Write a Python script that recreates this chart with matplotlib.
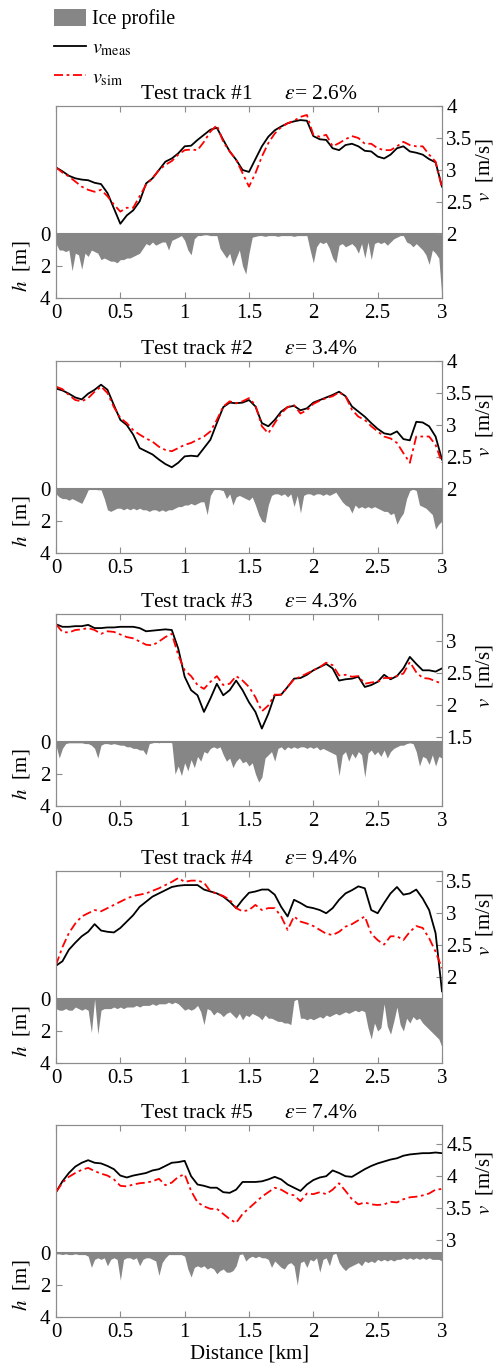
import matplotlib

matplotlib.use("Agg")
import matplotlib.pyplot as plt  # noqa: E402
import numpy as np  # noqa: E402
from matplotlib.lines import Line2D  # noqa: E402
from matplotlib.patches import Patch  # noqa: E402

plt.rcParams["font.family"] = ["Liberation Serif", "DejaVu Serif"]
plt.rcParams["mathtext.fontset"] = "stix"
plt.rcParams["font.size"] = 14

# distance grids [km]
X_V = np.linspace(0, 3, 61)
X_H = np.linspace(0, 3, 121)

TITLES = ["Test track #1", "Test track #2", "Test track #3", "Test track #4", "Test track #5"]
ERRORS = ["2.6%", "3.4%", "4.3%", "9.4%", "7.4%"]

# velocity axis limits and ticks per track [m/s]
V_LIMS = [(1.0, 4.0), (1.0, 4.0), (0.42, 3.42), (0.65, 3.65), (1.8, 4.8)]
V_TICKS = [
    [2, 2.5, 3, 3.5, 4],
    [2, 2.5, 3, 3.5, 4],
    [1.5, 2, 2.5, 3],
    [2, 2.5, 3, 3.5],
    [3, 3.5, 4, 4.5],
]

v_meas_1 = [
    3.04, 2.98, 2.91, 2.87, 2.85, 2.84, 2.80, 2.78, 2.64, 2.40,
    2.16, 2.29, 2.37, 2.51, 2.79, 2.87, 3.00, 3.13, 3.18, 3.26,
    3.37, 3.38, 3.47, 3.55, 3.63, 3.66, 3.47, 3.29, 3.16, 3.00,
    2.97, 3.17, 3.37, 3.52, 3.62, 3.68, 3.73, 3.76, 3.78, 3.77,
    3.53, 3.48, 3.47, 3.34, 3.31, 3.39, 3.41, 3.37, 3.30, 3.29,
    3.21, 3.18, 3.24, 3.34, 3.37, 3.29, 3.27, 3.24, 3.17, 3.12,
    2.74,
]
v_sim_1 = [
    3.04, 2.96, 2.90, 2.82, 2.74, 2.69, 2.66, 2.69, 2.59, 2.46,
    2.35, 2.41, 2.41, 2.59, 2.77, 2.87, 3.00, 3.08, 3.14, 3.24,
    3.31, 3.32, 3.31, 3.44, 3.60, 3.70, 3.44, 3.29, 3.16, 2.95,
    2.74, 2.95, 3.21, 3.42, 3.57, 3.67, 3.73, 3.77, 3.83, 3.86,
    3.55, 3.52, 3.55, 3.37, 3.42, 3.48, 3.53, 3.50, 3.41, 3.41,
    3.34, 3.31, 3.31, 3.37, 3.44, 3.39, 3.37, 3.37, 3.24, 3.13,
    2.72,
]
h_1 = [
    0.6, 1.0, 1.0, 1.1, 1.0, 2.3, 1.2, 1.3, 2.2, 1.2,
    1.4, 1.0, 1.1, 1.2, 1.6, 1.5, 1.6, 1.7, 1.7, 1.8,
    1.6, 1.6, 1.5, 1.5, 1.4, 1.3, 1.2, 0.9, 0.6, 0.7,
    0.5, 0.7, 0.6, 0.5, 0.5, 1.0, 0.4, 0.3, 0.2, 0.1,
    0.4, 1.0, 1.3, 0.3, 0.1, 0.1, 0.05, 0.05, 0.1, 0.1,
    0.1, 0.9, 1.2, 1.5, 1.2, 2.0, 1.5, 1.0, 2.0, 2.5,
    1.2, 0.2, 0.15, 0.1, 0.1, 0.15, 0.1, 0.1, 0.1, 0.15,
    0.1, 0.1, 0.1, 0.1, 0.15, 0.1, 0.1, 0.1, 0.1, 1.0,
    1.8, 0.8, 0.5, 0.6, 0.5, 0.9, 1.5, 1.8, 0.7, 0.6,
    0.8, 0.7, 0.6, 0.8, 1.2, 0.6, 1.5, 0.5, 1.6, 0.6,
    0.5, 0.6, 0.5, 0.7, 0.5, 0.3, 0.2, 0.1, 0.1, 0.5,
    0.6, 0.8, 0.6, 0.8, 1.0, 1.3, 1.9, 1.0, 1.2, 1.5,
    4.0,
]

v_meas_2 = [
    3.57, 3.54, 3.49, 3.43, 3.40, 3.49, 3.55, 3.63, 3.55, 3.31,
    3.08, 3.00, 2.85, 2.64, 2.59, 2.54, 2.46, 2.39, 2.34, 2.41,
    2.51, 2.52, 2.51, 2.64, 2.77, 3.03, 3.28, 3.35, 3.34, 3.35,
    3.39, 3.29, 3.03, 2.98, 3.08, 3.21, 3.28, 3.30, 3.23, 3.26,
    3.35, 3.39, 3.43, 3.47, 3.52, 3.45, 3.29, 3.21, 3.13, 3.03,
    2.94, 2.87, 2.85, 2.90, 2.78, 2.76, 3.05, 3.04, 2.98, 2.82,
    2.46,
]
v_sim_2 = [
    3.60, 3.56, 3.47, 3.39, 3.37, 3.42, 3.52, 3.60, 3.50, 3.28,
    3.11, 3.03, 2.92, 2.85, 2.79, 2.74, 2.66, 2.61, 2.59, 2.64,
    2.69, 2.72, 2.77, 2.82, 2.90, 3.08, 3.29, 3.37, 3.34, 3.37,
    3.42, 3.31, 2.98, 2.87, 3.03, 3.18, 3.28, 3.31, 3.18, 3.23,
    3.33, 3.38, 3.42, 3.45, 3.51, 3.45, 3.24, 3.13, 3.08, 2.98,
    2.90, 2.82, 2.79, 2.72, 2.56, 2.41, 2.82, 2.82, 2.82, 2.69,
    2.41,
]
h_2 = [
    0.3, 0.5, 0.6, 0.6, 0.7, 0.6, 0.7, 0.8, 0.9, 0.5,
    0.05, 0.0, 0.0, 0.05, 0.05, 0.6, 1.3, 1.4, 1.3, 1.2,
    1.2, 1.3, 1.2, 1.3, 1.2, 1.3, 1.2, 1.3, 1.3, 1.4,
    1.3, 1.3, 1.4, 1.3, 1.4, 1.3, 1.3, 1.2, 1.1, 1.1,
    1.0, 1.0, 0.9, 1.0, 0.9, 0.8, 0.8, 1.6, 0.4, 0.05,
    0.0, 0.05, 0.1, 0.6, 0.3, 1.0, 0.5, 0.4, 0.5, 0.6,
    0.7, 0.5, 1.0, 1.6, 2.0, 2.1, 1.0, 0.4, 0.3, 0.3,
    0.4, 0.3, 0.5, 0.3, 1.1, 0.4, 1.5, 0.4, 0.3, 0.3,
    0.4, 0.3, 0.3, 0.4, 0.3, 0.4, 0.3, 0.2, 0.5, 0.8,
    1.0, 1.1, 1.5, 1.0, 1.2, 1.1, 1.2, 1.1, 1.2, 1.1,
    1.2, 1.3, 1.4, 1.4, 1.6, 1.5, 2.2, 1.8, 1.5, 0.6,
    0.1, 0.0, 0.1, 1.0, 1.1, 1.2, 1.4, 1.6, 2.5, 2.2,
    2.0,
]

v_meas_3 = [
    3.26, 3.22, 3.22, 3.23, 3.23, 3.25, 3.20, 3.20, 3.21, 3.21,
    3.22, 3.22, 3.22, 3.20, 3.15, 3.16, 3.17, 3.18, 3.17, 2.88,
    2.44, 2.23, 2.15, 1.89, 2.10, 2.33, 2.15, 2.23, 2.38, 2.23,
    2.04, 1.89, 1.63, 1.86, 2.15, 2.16, 2.28, 2.41, 2.42, 2.47,
    2.54, 2.59, 2.64, 2.57, 2.38, 2.40, 2.41, 2.44, 2.28, 2.31,
    2.36, 2.47, 2.40, 2.45, 2.57, 2.75, 2.64, 2.54, 2.54, 2.52,
    2.57,
]
v_sim_3 = [
    3.26, 3.14, 3.13, 3.17, 3.18, 3.20, 3.17, 3.11, 3.15, 3.14,
    3.10, 3.06, 3.04, 2.99, 2.94, 2.93, 2.99, 3.06, 3.11, 2.78,
    2.54, 2.45, 2.31, 2.25, 2.36, 2.45, 2.31, 2.33, 2.45, 2.38,
    2.28, 2.12, 1.90, 1.99, 2.16, 2.16, 2.28, 2.40, 2.44, 2.49,
    2.54, 2.59, 2.66, 2.62, 2.46, 2.47, 2.44, 2.45, 2.33, 2.35,
    2.36, 2.42, 2.42, 2.45, 2.49, 2.67, 2.51, 2.42, 2.41, 2.37,
    2.33,
]
h_3 = [
    0.2, 1.0, 0.4, 0.1, 0.05, 0.05, 0.05, 0.05, 0.05, 0.1,
    0.1, 0.2, 0.4, 1.0, 0.2, 0.1, 0.1, 0.15, 0.1, 0.15,
    0.2, 0.2, 0.3, 0.3, 0.4, 0.4, 0.5, 0.5, 0.8, 0.1,
    0.05, 0.0, 0.05, 0.0, 0.0, 0.0, 0.05, 2.0, 1.5, 2.1,
    1.3, 1.8, 1.1, 1.6, 0.9, 1.2, 0.6, 0.7, 0.4, 0.3,
    0.4, 0.3, 0.8, 1.2, 1.0, 1.6, 1.2, 1.0, 1.3, 1.2,
    1.5, 1.3, 2.0, 2.5, 2.2, 1.0, 0.8, 0.6, 1.2, 0.4,
    0.3, 0.5, 0.3, 0.4, 0.3, 0.4, 0.3, 0.3, 0.4, 0.3,
    0.4, 0.3, 0.5, 0.4, 0.5, 0.6, 0.7, 0.8, 2.1, 0.8,
    0.6, 1.2, 0.7, 1.0, 0.6, 0.8, 2.2, 0.7, 0.5, 0.8,
    0.6, 0.9, 0.5, 1.0, 0.6, 0.4, 0.3, 0.2, 0.2, 0.1,
    0.05, 0.1, 0.6, 1.5, 0.9, 1.0, 1.4, 0.8, 1.5, 0.9,
    1.0,
]

v_meas_4 = [
    2.17, 2.24, 2.42, 2.53, 2.63, 2.70, 2.82, 2.72, 2.70, 2.69,
    2.76, 2.86, 2.96, 3.09, 3.17, 3.25, 3.30, 3.35, 3.40, 3.42,
    3.43, 3.43, 3.43, 3.36, 3.33, 3.30, 3.25, 3.17, 3.07, 3.20,
    3.31, 3.33, 3.36, 3.36, 3.28, 3.09, 2.94, 3.20, 3.15, 3.09,
    3.07, 3.04, 2.99, 3.07, 3.20, 3.30, 3.35, 3.41, 3.38, 3.04,
    2.99, 3.15, 3.30, 3.40, 3.28, 3.30, 3.36, 3.22, 3.04, 2.68,
    1.77,
]
v_sim_4 = [
    2.18, 2.46, 2.68, 2.83, 2.94, 2.99, 3.04, 3.02, 3.07, 3.12,
    3.17, 3.22, 3.26, 3.28, 3.30, 3.34, 3.38, 3.43, 3.48, 3.54,
    3.48, 3.50, 3.50, 3.47, 3.33, 3.30, 3.26, 3.20, 3.07, 3.02,
    3.04, 3.12, 3.04, 3.07, 3.07, 2.94, 2.73, 2.94, 2.86, 2.83,
    2.79, 2.73, 2.67, 2.65, 2.70, 2.78, 2.82, 2.88, 2.94, 2.67,
    2.57, 2.50, 2.63, 2.63, 2.57, 2.70, 2.79, 2.76, 2.60, 2.39,
    2.13,
]
h_4 = [
    0.6, 0.7, 0.7, 0.6, 0.7, 0.7, 0.5, 0.6, 0.7, 0.6,
    0.7, 2.1, 0.0, 2.2, 0.7, 0.6, 0.6, 0.6, 0.5, 0.6,
    0.5, 0.6, 0.5, 0.5, 0.5, 0.4, 0.5, 0.4, 0.4, 0.4,
    0.3, 0.4, 0.3, 0.3, 0.3, 0.2, 0.3, 0.2, 0.3, 0.5,
    0.7, 0.6, 0.7, 0.6, 0.4, 0.8, 1.6, 0.6, 0.7, 1.0,
    0.8, 0.9, 1.1, 0.9, 0.8, 1.0, 1.2, 0.9, 1.3, 1.0,
    1.1, 0.9, 1.0, 1.1, 1.3, 1.0, 1.2, 1.2, 1.3, 1.4,
    1.4, 1.5, 1.5, 1.6, 0.1, 0.0, 1.2, 1.2, 1.3, 1.2,
    1.3, 1.2, 1.1, 1.2, 1.0, 1.1, 1.0, 0.9, 1.0, 0.9,
    0.8, 0.9, 0.8, 0.7, 0.8, 0.7, 0.8, 1.8, 2.5, 1.5,
    2.0, 1.8, 0.3, 1.7, 2.2, 1.4, 0.5, 1.6, 2.0, 1.2,
    1.5, 1.1, 1.3, 1.2, 1.5, 1.7, 1.9, 2.1, 2.3, 2.5,
    3.0,
]

v_meas_5 = [
    3.75, 3.92, 4.05, 4.15, 4.21, 4.25, 4.21, 4.20, 4.16, 4.11,
    4.01, 3.98, 4.01, 4.03, 4.05, 4.09, 4.11, 4.16, 4.21, 4.22,
    4.24, 4.00, 3.87, 3.85, 3.82, 3.82, 3.75, 3.74, 3.79, 3.91,
    3.91, 3.91, 3.92, 3.95, 3.99, 3.95, 3.87, 3.82, 3.77, 3.87,
    3.94, 3.98, 4.00, 4.09, 4.05, 4.00, 3.99, 4.05, 4.11, 4.16,
    4.20, 4.23, 4.26, 4.28, 4.32, 4.34, 4.35, 4.36, 4.36, 4.37,
    4.36,
]
v_sim_5 = [
    3.75, 3.90, 3.99, 4.05, 4.10, 4.13, 4.08, 4.04, 4.01, 3.95,
    3.85, 3.84, 3.87, 3.89, 3.90, 3.92, 3.96, 3.86, 3.90, 3.99,
    4.03, 3.77, 3.59, 3.53, 3.49, 3.49, 3.41, 3.33, 3.27, 3.41,
    3.50, 3.59, 3.68, 3.75, 3.82, 3.79, 3.73, 3.70, 3.61, 3.73,
    3.72, 3.75, 3.72, 3.79, 3.89, 3.77, 3.64, 3.56, 3.59, 3.56,
    3.55, 3.56, 3.60, 3.59, 3.64, 3.67, 3.68, 3.70, 3.73, 3.79,
    3.80,
]
h_5 = [
    0.05, 0.05, 0.1, 0.05, 0.1, 0.1, 0.05, 0.1, 0.1, 0.1,
    0.2, 0.9, 0.4, 0.3, 0.4, 0.3, 0.8, 0.4, 0.3, 0.4,
    1.7, 0.4, 0.3, 0.3, 0.4, 0.3, 0.8, 0.4, 0.3, 0.3,
    0.4, 0.5, 1.4, 0.6, 0.3, 0.1, 0.1, 0.1, 0.1, 0.1,
    0.2, 1.0, 1.5, 0.9, 0.8, 0.9, 0.8, 1.0, 0.9, 1.0,
    1.3, 1.1, 1.0, 1.2, 1.2, 1.1, 0.8, 0.1, 0.05, 0.5,
    0.3, 0.2, 0.3, 0.2, 0.3, 0.3, 0.4, 0.9, 0.5, 0.7,
    0.9, 1.0, 0.7, 0.6, 0.8, 2.0, 0.6, 0.5, 0.9, 0.4,
    0.5, 0.3, 1.2, 0.4, 0.3, 0.8, 0.1, 0.0, 0.6, 0.9,
    1.1, 0.9, 0.8, 0.7, 0.6, 0.8, 0.5, 0.6, 0.5, 0.6,
    0.4, 0.5, 0.4, 0.5, 0.4, 0.5, 0.4, 0.4, 0.3, 0.4,
    0.3, 0.4, 0.3, 0.4, 0.3, 0.4, 0.3, 0.4, 0.4, 0.4,
    0.5,
]

V_MEAS = [v_meas_1, v_meas_2, v_meas_3, v_meas_4, v_meas_5]
V_SIM = [v_sim_1, v_sim_2, v_sim_3, v_sim_4, v_sim_5]
H_ICE = [h_1, h_2, h_3, h_4, h_5]

ICE_COLOR = "#868686"
SPINE_COLOR = "#8c8c8c"
SIM_DASH = (0, (5, 2, 1.5, 2))
TICK_FS = 15

W, H = 496, 1370
fig = plt.figure(figsize=(W / 100, H / 100), dpi=100)

ax_left, ax_right = 56, 442
tops = [106, 361, 614, 871, 1125]
panel_h = 192

for i in range(5):
    top = tops[i]
    ax = fig.add_axes([ax_left / W, (H - top - panel_h) / H,
                       (ax_right - ax_left) / W, panel_h / H])
    ax.fill_between(X_H, 0, H_ICE[i], color=ICE_COLOR, lw=0)
    ax.axhline(0, color=ICE_COLOR, lw=1.5)
    ax.set_ylim(4, -8)
    ax.set_yticks([0, 2, 4])
    ax.set_xlim(0, 3)
    ax.set_xticks([0, 0.5, 1, 1.5, 2, 2.5, 3])
    ax.set_xticklabels(["0", "0.5", "1", "1.5", "2", "2.5", "3"])
    ax.set_ylabel(r"$h$  [m]", fontsize=TICK_FS)
    ax.yaxis.set_label_coords(-0.062, 1 / 6)
    ax.tick_params(direction="in", top=True, length=4, color=SPINE_COLOR,
                   pad=4, labelsize=TICK_FS)

    ax2 = ax.twinx()
    ax2.plot(X_V, V_MEAS[i], color="black", lw=1.3)
    ax2.plot(X_V, V_SIM[i], color="red", lw=1.3, linestyle=SIM_DASH)
    ax2.set_ylim(*V_LIMS[i])
    ax2.set_yticks(V_TICKS[i])
    ax2.set_yticklabels(["%g" % t for t in V_TICKS[i]])
    ax2.set_ylabel(r"$v$  [m/s]", fontsize=TICK_FS)
    lo, hi = V_LIMS[i]
    ax2.yaxis.set_label_coords(1.084, ((V_TICKS[i][0] + hi) / 2 - lo) / (hi - lo))
    ax2.tick_params(direction="in", length=4, color=SPINE_COLOR, pad=3,
                    labelsize=TICK_FS)

    for a in (ax, ax2):
        for s in a.spines.values():
            s.set_color(SPINE_COLOR)

    ax.set_title(TITLES[i] + "      " + r"$\varepsilon$= " + ERRORS[i], pad=5,
                 fontsize=15.5)

    if i == 4:
        ax.set_xlabel("Distance [km]", labelpad=2, fontsize=15)

handles = [
    Patch(facecolor=ICE_COLOR, edgecolor="none"),
    Line2D([], [], color="black", lw=1.3),
    Line2D([], [], color="red", lw=1.3, linestyle=SIM_DASH),
]
labels = ["Ice profile", r"$v_\mathrm{meas}$", r"$v_\mathrm{sim}$"]
fig.legend(handles, labels, loc="upper left", bbox_to_anchor=(50 / W, 1 - 5 / H),
           frameon=False, handlelength=1.6, handleheight=0.9, handletextpad=0.3,
           labelspacing=0.45, borderaxespad=0, borderpad=0.2,
           prop={"size": 14.5})

fig.savefig("out.png", dpi=100)
